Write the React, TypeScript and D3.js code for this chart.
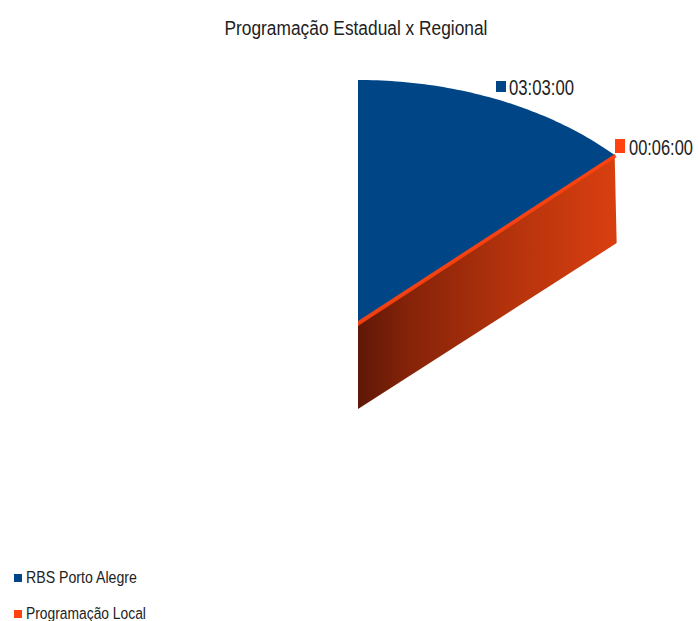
import React, { useEffect, useRef } from 'react';
import * as d3 from 'd3';

const categories = ['RBS Porto Alegre', 'Programação Local'];
const durationsSec = [10980, 360];
const colors = ['#004586', '#ff420e'];
const title = 'Programação Estadual x Regional';

function fmt(s: number) {
  const h = Math.floor(s / 3600), m = Math.floor((s % 3600) / 60), ss = s % 60;
  return [h, m, ss].map(v => String(v).padStart(2, '0')).join(':');
}

const FONT = '"Liberation Sans", Arial, sans-serif';

// Text squeezed horizontally to a target width (mimics a narrow font)
function NarrowText({ x, y, width, size, anchor = 'start', children }: any) {
  const ref = useRef<SVGTextElement>(null);
  useEffect(() => {
    const el = ref.current;
    if (!el) return;
    const w = el.getComputedTextLength();
    const sx = w > 0 ? width / w : 0.8;
    const ox = anchor === 'middle' ? -width / 2 : 0;
    el.setAttribute('transform', `translate(${x + ox},${y}) scale(${sx},1)`);
    el.style.visibility = 'visible';
  }, [x, y, width, anchor, children]);
  return (
    <text ref={ref} x={0} y={0} fontFamily={FONT} fontSize={size} fill="#222"
      style={{ visibility: 'hidden' }}>{children}</text>
  );
}

export default function App() {
  const W = 699, H = 621;
  const cx = 358, cy = 323, rx = 355, ry = 243, depth = 88;
  const splitAngle = (46.3 * Math.PI) / 180;
  const proj = (a: number): [number, number] => [cx + rx * Math.sin(a), cy - ry * Math.cos(a)];
  const angles = d3.range(0, 61).map(i => (splitAngle * i) / 60);
  const line = d3.line();
  const topPath = line([[cx, cy], ...angles.map(a => proj(a))]) + 'Z';
  const edge = proj(splitAngle);
  const side = line([[cx, cy], edge, [edge[0] + 2, edge[1] + depth], [cx, cy + depth - 2]]) + 'Z';
  const sliver = line([[cx, cy - 2], [edge[0], edge[1] - 1], [edge[0] + 2, edge[1] + 2], [cx, cy + 3]]) + 'Z';

  const labels = [
    { x: 496, y: 81, sq: 11, tx: 509, ty: 95, tl: 65 },
    { x: 615, y: 139, sq: 14, tx: 629, ty: 155, tl: 64 },
  ];
  const legendY = [574, 610];
  const legendW = [111, 120];

  return (
    <svg width={W} height={H} style={{ position: 'absolute', left: 0, top: 0, background: '#fff' }}>
      <defs>
        <linearGradient id="sideGrad" gradientUnits="userSpaceOnUse" x1={cx} y1={0} x2={edge[0]} y2={0}>
          <stop offset="0" stopColor="#5e1806" />
          <stop offset="0.2" stopColor="#862309" />
          <stop offset="0.6" stopColor="#b5330c" />
          <stop offset="1" stopColor="#d83f10" />
        </linearGradient>
      </defs>
      <NarrowText x={356} y={35} width={263} size={21} anchor="middle">{title}</NarrowText>
      <path d={side} fill="url(#sideGrad)" />
      <path d={topPath} fill={colors[0]} />
      <path d={sliver} fill={colors[1]} opacity={0.9} />
      {durationsSec.map((d, i) => (
        <g key={i}>
          <rect x={labels[i].x} y={labels[i].y} width={10} height={labels[i].sq} fill={colors[i]} />
          <NarrowText x={labels[i].tx} y={labels[i].ty} width={labels[i].tl} size={22}>{fmt(d)}</NarrowText>
        </g>
      ))}
      {categories.map((c, i) => (
        <g key={c}>
          <rect x={14} y={legendY[i]} width={8} height={8} fill={colors[i]} />
          <NarrowText x={26} y={legendY[i] + 9} width={legendW[i]} size={16.5}>{c}</NarrowText>
        </g>
      ))}
    </svg>
  );
}
